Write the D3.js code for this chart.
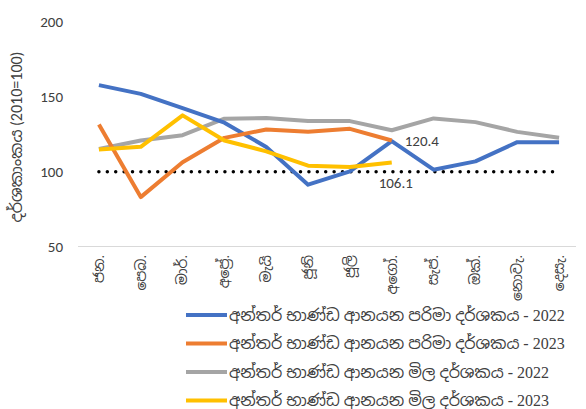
<!DOCTYPE html>
<html><head><meta charset="utf-8">
<script src="https://cdn.jsdelivr.net/npm/d3@7"></script>
<style>body{margin:0;background:#fff;} text{font-family:Calibri,"Noto Sans Sinhala","Noto Sans","Liberation Sans",sans-serif;}</style>
</head><body>
<svg id="c" width="586" height="409"></svg>
<script>
const months = ["ජන.","පෙබ.","මාර්.","අප්‍රේ.","මැයි","ජූනි","ජූලි","අගෝ.","සැප්.","ඔක්.","නොවැ.","දෙසැ."];
const volume2022 = [157.8,152.0,142.5,132.7,116.5,91.3,100.2,120.4,101.3,106.9,119.7,119.7];
const volume2023 = [131.5,83.0,106.3,122.6,128.2,126.6,128.6,120.8];
const price2022 = [115.2,120.8,124.4,135.4,135.8,133.8,133.8,127.7,135.6,133.1,126.6,122.6];
const price2023 = [114.8,116.6,137.6,120.8,113.6,104.0,103.1,106.1];
const yTicks = [50,100,150,200];
const seriesNames = ["අන්තර් භාණ්ඩ ආනයන පරිමා දර්ශකය - 2022","අන්තර් භාණ්ඩ ආනයන පරිමා දර්ශකය - 2023","අන්තර් භාණ්ඩ ආනයන මිල දර්ශකය - 2022","අන්තර් භාණ්ඩ ආනයන මිල දර්ශකය - 2023"];
const colors = ["#4472C4","#ED7D31","#A5A5A5","#FFC000"];
const baseline = 100;
const yTitle = "දර්ශකාංකය (2010=100)";

const svg = d3.select("#c");
const x = d3.scaleBand().domain(months).range([78,580]);
const y = d3.scaleLinear().domain([50,200]).range([246.5,22]);
const cx = m => x(m) + x.bandwidth()/2;

svg.append("g").selectAll("text").data(yTicks).join("text")
  .attr("x",63).attr("y",d=>y(d)).attr("dy","0.35em").attr("text-anchor","end")
  .attr("font-size",15).attr("fill","#404040").text(d=>d);
svg.append("text").attr("transform",`translate(22,${137}) rotate(-90)`)
  .attr("text-anchor","middle").attr("font-size",16).attr("fill","#404040").text(yTitle);
svg.append("line").attr("x1",78).attr("x2",576).attr("y1",y(50)).attr("y2",y(50)).attr("stroke","#d9d9d9").attr("stroke-width",1);
svg.append("g").selectAll("text").data(months).join("text")
  .attr("transform",d=>`translate(${cx(d)},255) rotate(-90)`)
  .attr("text-anchor","end").attr("dy","0.35em").attr("font-size",14).attr("fill","#404040").text(d=>d);

svg.append("line").attr("x1",cx(months[0])).attr("x2",cx(months[11])).attr("y1",y(baseline)).attr("y2",y(baseline))
  .attr("stroke","#000").attr("stroke-width",3.5).attr("stroke-linecap","round").attr("stroke-dasharray","0 8.4");

const line = d3.line().x((d,i)=>cx(months[i])).y(d=>y(d));
const series = [volume2022,volume2023,price2022,price2023];
const order = [2,0,1,3];
order.forEach(k=>{
  svg.append("path").datum(series[k]).attr("d",line).attr("fill","none")
    .attr("stroke",colors[k]).attr("stroke-width",4).attr("stroke-linejoin","round");
});

svg.append("text").attr("x",cx(months[7])+13).attr("y",y(volume2022[7])).attr("dy","0.35em")
  .attr("font-size",15).attr("fill","#404040").text(volume2022[7].toFixed(1));
svg.append("text").attr("x",cx(months[7])+4).attr("y",y(price2023[7])+20).attr("dy","0.35em").attr("text-anchor","middle")
  .attr("font-size",15).attr("fill","#404040").text(price2023[7].toFixed(1));

const lg = svg.append("g");
seriesNames.forEach((n,i)=>{
  const yy = 315 + i*28.5;
  lg.append("line").attr("x1",186).attr("x2",227).attr("y1",yy).attr("y2",yy).attr("stroke",colors[i]).attr("stroke-width",4);
  lg.append("text").attr("x",229).attr("y",yy).attr("dy","0.35em").attr("font-size",16).attr("fill","#404040")
    .style("font-family","'Liberation Serif','Noto Sans Sinhala',serif").text(n);
});
</script>
</body></html>
